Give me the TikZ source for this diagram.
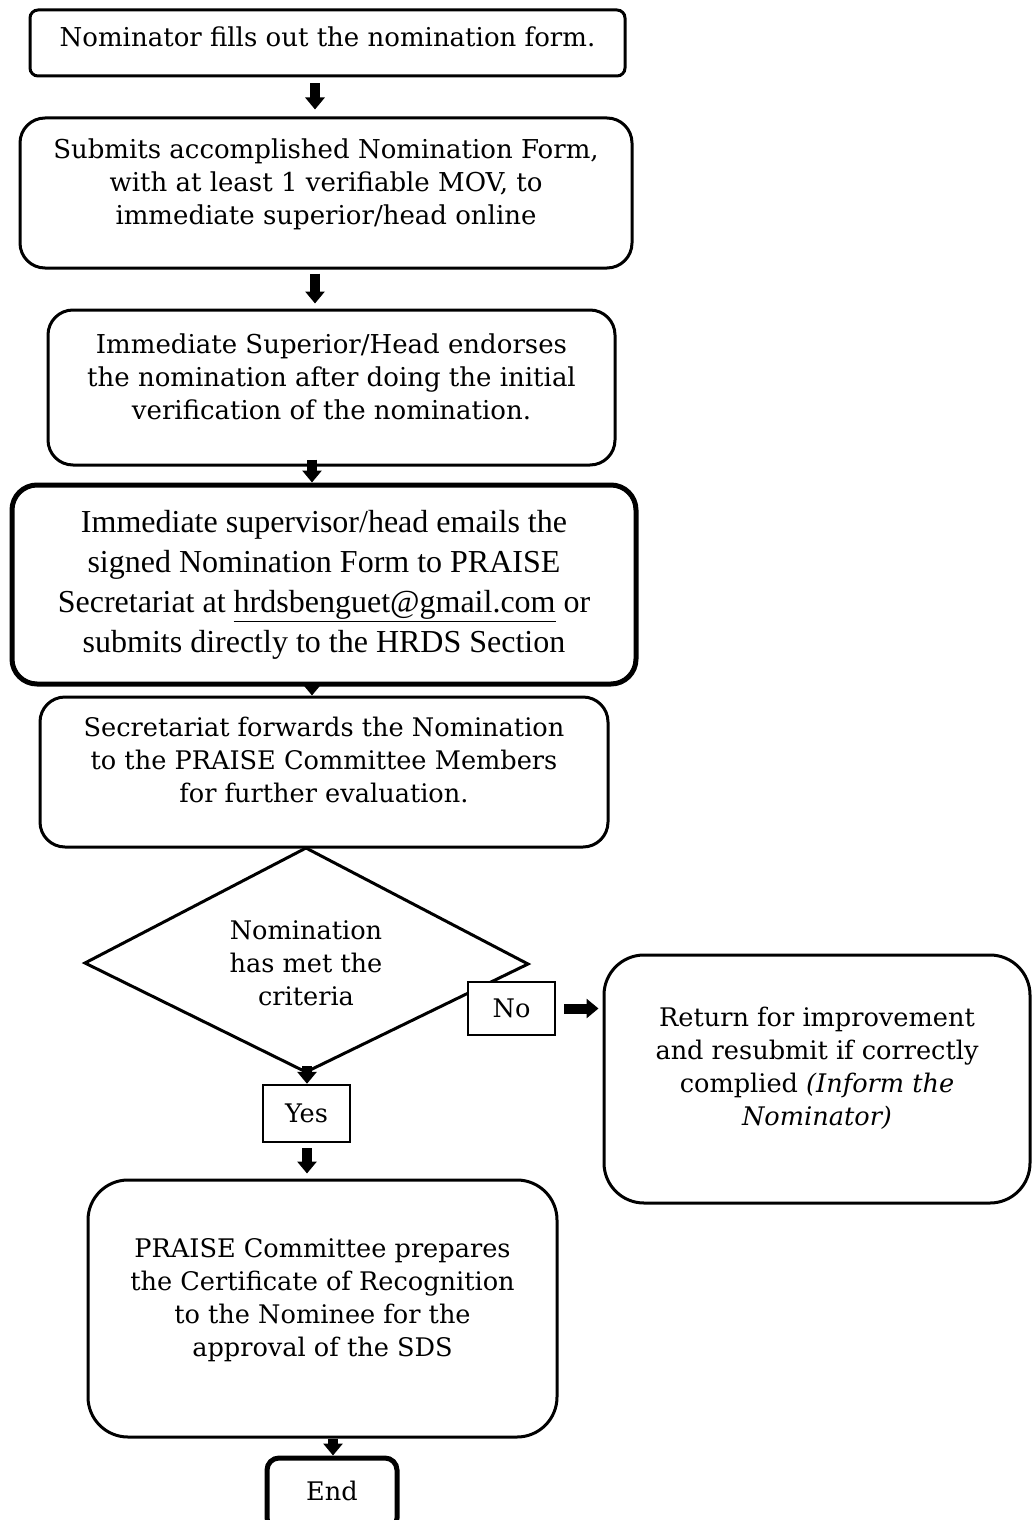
\documentclass[tikz,border=0pt]{standalone}
\usepackage{fontspec}
\setmainfont{DejaVu Serif}
\newfontfamily\timesf{Liberation Serif}
\usetikzlibrary{arrows.meta}
\begin{document}
\begin{tikzpicture}[x=0.5pt,y=-0.5pt,
  box/.style={draw, fill=white, line width=1.5pt, rounded corners=12.5pt, align=center, inner sep=0pt,
    font=\fontsize{12.8}{16.5}\selectfont},
  sq/.style={draw, fill=white, line width=1.2pt, align=center, inner sep=0pt,
    font=\fontsize{12.8}{16.5}\selectfont},
  blk/.style={line width=5pt, -{Triangle[length=6pt,width=9.5pt]}},
  ]
\useasboundingbox (0,0) rectangle (1034,1520);
\clip (0,0) rectangle (1034,1520);

\node[box, rounded corners=4pt, minimum width={595*0.5pt}, minimum height={66*0.5pt}, text depth=6pt,
  font=\fontsize{13}{16.5}\selectfont] (b1) at (327.5,43)
  {Nominator fills out the nomination form.};
\node[box, minimum width={612*0.5pt}, minimum height={150*0.5pt}, text depth=11pt,
  font=\fontsize{13}{16.5}\selectfont] (b2) at (326,193)
  {Submits accomplished Nomination Form,\\with at least 1 verifiable MOV, to\\immediate superior/head online};
\node[box, minimum width={567*0.5pt}, minimum height={155*0.5pt}, text depth=11pt,
  font=\fontsize{13}{16.5}\selectfont] (b3) at (331.5,387.5)
  {Immediate Superior/Head endorses\\the nomination after doing the initial\\verification of the nomination.};
\node[box, line width=2.5pt, minimum width={624*0.5pt}, minimum height={199*0.5pt},
  font=\timesf\fontsize{16}{20}\selectfont] (b4) at (324,584.5)
  {Immediate supervisor/head emails the\\signed Nomination Form to PRAISE\\Secretariat at \underline{hrdsbenguet@gmail.com} or\\submits directly to the HRDS Section};
\node[box, minimum width={568*0.5pt}, minimum height={150*0.5pt}, text depth=12pt] (b5) at (324,772)
  {Secretariat forwards the Nomination\\to the PRAISE Committee Members\\for further evaluation.};

\coordinate (dtop) at (306,848);
\coordinate (dright) at (528,964);
\coordinate (dbot) at (306,1072);
\coordinate (dleft) at (85,963);
\draw[line width=1.5pt] (dtop) -- (dright) -- (dbot) -- (dleft) -- cycle;
\node[align=center, inner sep=0pt, font=\fontsize{12.8}{16.5}\selectfont] (dt) at (306,963)
  {Nomination\\has met the\\criteria};

\node[sq, minimum width={87*0.5pt}, minimum height={53*0.5pt}] (no) at (511.5,1008.5) {No};
\node[sq, minimum width={87*0.5pt}, minimum height={57*0.5pt}] (yes) at (306.5,1113.5) {Yes};

\node[box, rounded corners=20pt, minimum width={426*0.5pt}, minimum height={248*0.5pt}, text depth=13pt] (ret) at (817,1079)
  {Return for improvement\\and resubmit if correctly\\complied \textit{(Inform the}\\\textit{Nominator)}};
\node[box, rounded corners=20pt, minimum width={469*0.5pt}, minimum height={257*0.5pt}, text depth=11pt] (pr) at (322.5,1308.5)
  {PRAISE Committee prepares\\the Certificate of Recognition\\to the Nominee for the\\approval of the SDS};
\node[box, line width=2.5pt, rounded corners=6pt, minimum width={130*0.5pt}, minimum height={72*0.5pt}, text depth=3.5pt] (end) at (332,1494) {End};

\coordinate (x315) at (315,0);
\coordinate (x312) at (312,0);
\coordinate (x307) at (307,0);
\coordinate (x333) at (333,0);
\draw[blk, shorten <=3pt, shorten >=3.5pt] (b1.south -| x315) -- (b2.north -| x315);
\draw[blk, shorten <=2pt, shorten >=2.5pt] (b2.south -| x315) -- (b3.north -| x315);
\draw[blk, shorten <=-3.5pt] (b3.south -| x312) -- (b4.north -| x312);
\draw[blk] (b4.south -| x312) -- (b5.north -| x312);
\draw[blk, shorten <=-3pt] (dbot -| x307) -- (yes.north -| x307);
\draw[blk, shorten <=2.5pt, shorten >=2.5pt] (yes.south -| x307) -- (pr.north -| x307);
\draw[blk] (pr.south -| x333) -- (end.north -| x333);
\draw[blk, shorten <=4pt, shorten >=2pt] (no.east) -- (ret.west |- no.east);
\end{tikzpicture}
\end{document}
